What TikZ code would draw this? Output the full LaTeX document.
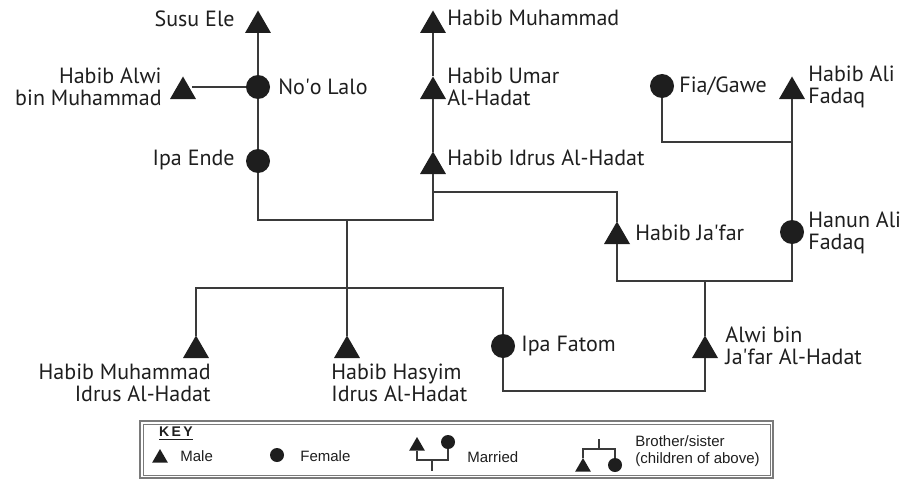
\documentclass[tikz,border=0pt]{standalone}
\usepackage{fontspec}
\setmainfont{PT Sans}
\newfontfamily\keyfont{Liberation Sans}
\usepackage{tikz}
\usetikzlibrary{shapes.geometric}
\usepackage{xcolor}

\definecolor{ink}{HTML}{1E1E1E}
\definecolor{wire}{HTML}{3A3A3A}
\definecolor{keyline}{HTML}{7A7A7A}

\tikzset{
    male/.style={regular polygon, regular polygon sides=3, minimum size=15pt,
        inner sep=0pt, outer sep=0pt, fill=ink},
    female/.style={circle, minimum size=12pt, inner sep=0pt, outer sep=0pt, fill=ink},
    keymale/.style={male, minimum size=9pt},
    keyfemale/.style={female, minimum size=7pt},
    pname/.style={inner sep=0pt, text=ink, font=\fontsize{11pt}{11pt}\selectfont},
    keytext/.style={inner sep=0pt, text=ink, font=\keyfont\fontsize{7.5pt}{8.5pt}\selectfont},
    link/.style={draw=wire, line width=0.75pt}
}

\begin{document}
\begin{tikzpicture}[x=0.5pt, y=-0.5pt]
        \useasboundingbox (0,0) rectangle (908,481);
        % Left column (mother's side)
        \node[male] (susu) at (258,25.5) {};
        \node[female] (noo) at (258,87) {};
        \node[male] (alwim) at (183,91.5) {};
        \node[female] (ende) at (258,161) {};
        \node[pname, anchor=east] (susut) at (235,19) {Susu Ele};
        \node[pname, anchor=west] (noot) at (278,87) {No\textquotesingle o Lalo};
        \node[pname, anchor=east, align=right] (alwimt) at (162,87) {Habib Alwi\\bin Muhammad};
        \node[pname, anchor=east] (endet) at (235,160) {Ipa Ende};
        \draw[link] (susu) -- (noo) -- (ende);
        \draw[link] (noo) -- (noo -| alwim.east);
        % Middle column (Al-Hadat line)
        \node[male] (muh) at (433,25.5) {};
        \node[male] (umar) at (433,91.5) {};
        \node[male] (idrus) at (433,166.5) {};
        \node[pname, anchor=west] (muht) at (447,18) {Habib Muhammad};
        \node[pname, anchor=west, align=left] (umart) at (447,87) {Habib Umar\\Al-Hadat};
        \node[pname, anchor=west] (idrust) at (447,158) {Habib Idrus Al-Hadat};
        \draw[link] (idrus) -- (umar) -- (muh);
        % Right side (Fadaq)
        \node[female] (fia) at (662,86) {};
        \node[male] (ali) at (792,91.5) {};
        \node[male] (jafar) at (617,236.5) {};
        \node[female] (hanun) at (792,232) {};
        \node[pname, anchor=west] (fiat) at (679,86) {Fia/Gawe};
        \node[pname, anchor=west, align=left] (alit) at (808,87) {Habib Ali\\Fadaq};
        \node[pname, anchor=west] (jafart) at (635,233) {Habib Ja\textquotesingle far};
        \node[pname, anchor=west, align=left] (hanunt) at (808,233) {Hanun Ali\\Fadaq};
        \coordinate (fa) at (792,142);
        \draw[link] (ali) -- (hanun);
        \draw[link] (fia) |- (fa);
        \coordinate (id) at (433,192);
        \draw[link] (id) -| (jafar);
        % Marriages
        \coordinate (m1) at (347,220);
        \draw[link] (ende) |- (m1) -| (idrus);
        \coordinate (m2) at (705,281);
        \draw[link] (jafar) |- (m2) -| (hanun);
        % Children
        \node[male] (muhid) at (196,350.5) {};
        \node[male] (hasyim) at (347,350.5) {};
        \node[female] (fatom) at (503,346) {};
        \node[male] (alwi) at (705,350.5) {};
        \node[pname, anchor=east, align=right] (muhidt) at (211,383) {Habib Muhammad\\Idrus Al-Hadat};
        \node[pname, anchor=west, align=left] (hasyimt) at (331,383) {Habib Hasyim\\Idrus Al-Hadat};
        \node[pname, anchor=west] (fatomt) at (521,346) {Ipa Fatom};
        \node[pname, anchor=west, align=left] (alwit) at (725,346) {Alwi bin\\Ja\textquotesingle far Al-Hadat};
        \coordinate (sib) at (347,288);
        \draw[link] (m1) -- (hasyim);
        \draw[link] (muhid) |- (sib) -| (fatom);
        \draw[link] (m2) -- (alwi);
        \coordinate (m3) at (705,391);
        \draw[link] (fatom) |- (m3) -- (alwi);
        % Key box
        \draw[draw=keyline, line width=0.7pt] (140,421) rectangle (773,478);
        \draw[draw=keyline, line width=0.5pt] (143,424) rectangle (770,475);
        \node[keytext, font=\keyfont\bfseries\fontsize{7pt}{8pt}\selectfont] (keyt) at (176,434)
            {\underline{K\kern1.2pt E\kern1.2pt Y}};
        \node[keymale] (kmale) at (160,458) {};
        \node[keytext, anchor=west] (kmalet) at (180,456) {Male};
        \node[keyfemale] (kfem) at (277,455) {};
        \node[keytext, anchor=west] (kfemt) at (300,456) {Female};
        % Married
        \node[keymale] (kmale2) at (417,446) {};
        \node[keyfemale] (kfem2) at (448,442) {};
        \node[keytext, anchor=west] (kmart) at (467,457) {Married};
        \coordinate (km) at (432,460);
        \coordinate (kmend) at (432,471);
        \draw[link, line width=0.6pt] (kmale2) |- (km) -| (kfem2);
        \draw[link, line width=0.6pt] (km) -- (kmend);
        % Brother/sister
        \node[keymale] (kmale3) at (583,467) {};
        \node[keyfemale] (kfem3) at (615,465) {};
        \node[keytext, anchor=west, align=left] (kbrot) at (635,451) {Brother/sister\\(children of above)};
        \coordinate (kbtop) at (599,439);
        \coordinate (kb) at (599,449);
        \draw[link, line width=0.6pt] (kbtop) -- (kb);
        \draw[link, line width=0.6pt] (kmale3) |- (kb) -| (kfem3);
    \end{tikzpicture}
\end{document}
